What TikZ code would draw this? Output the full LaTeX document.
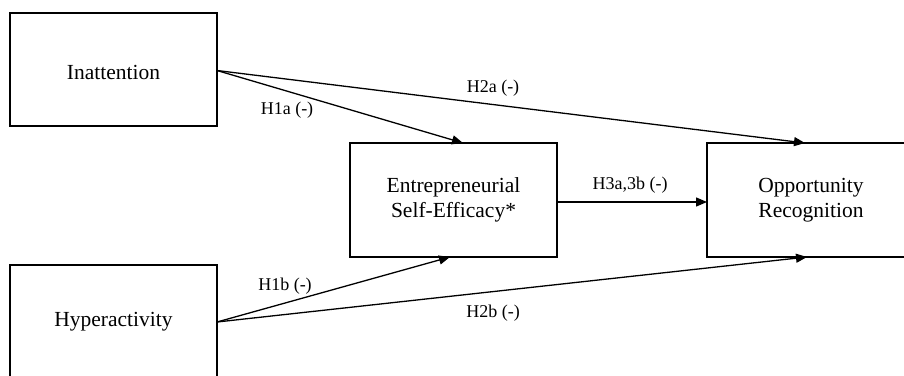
\documentclass[tikz,border=0pt]{standalone}
\usepackage{fontspec}
\setmainfont{Liberation Serif}
\usetikzlibrary{arrows.meta}
\begin{document}
\begin{tikzpicture}[x=1pt,y=-1pt,
  box/.style={draw, line width=1.4pt, fill=white},
  boxtext/.style={font=\fontsize{21.5}{25}\selectfont, align=center},
  conn/.style={line width=1.3pt, -{Triangle[length=11pt,width=9pt]}},
  lab/.style={font=\fontsize{18}{21}\selectfont, inner sep=0pt}]
\useasboundingbox (0,0) rectangle (904,375);
\clip (0,0) rectangle (904,375);
\fill[white] (0,0) rectangle (904,375);
% boxes
\draw[box] (10,13) rectangle (217,126);
\draw[box] (350,143) rectangle (557,257);
\draw[box] (707,143) rectangle (915,257);
\draw[box] (10,265) rectangle (217,390);
\node[boxtext] (inat) at (113.5,72) {Inattention};
\node[boxtext] (ese) at (453.5,200) {Entrepreneurial\\Self-Efficacy*};
\node[boxtext] (opp) at (811,200) {Opportunity\\Recognition};
\node[boxtext] (hyp) at (113.5,322) {Hyperactivity};
% anchor coordinates
\coordinate (inatR) at (217,70.5);
\coordinate (hypR) at (217,322);
\coordinate (eseT) at (463,143);
\coordinate (eseB) at (450,257);
\coordinate (eseR) at (557,202);
\coordinate (oppT) at (805,143);
\coordinate (oppB) at (807,257);
\coordinate (oppL) at (707,202);
% connectors
\draw[conn] (inatR) -- (eseT);
\draw[conn] (inatR) -- (oppT);
\draw[conn] (eseR) -- (oppL);
\draw[conn] (hypR) -- (eseB);
\draw[conn] (hypR) -- (oppB);
% labels
\node[lab] (l1a) at (287,110) {H1a (-)};
\node[lab] (l2a) at (493,88) {H2a (-)};
\node[lab] (l3) at (630,185) {H3a,3b (-)};
\node[lab] (l1b) at (285,286) {H1b (-)};
\node[lab] (l2b) at (493,313) {H2b (-)};
\end{tikzpicture}
\end{document}
